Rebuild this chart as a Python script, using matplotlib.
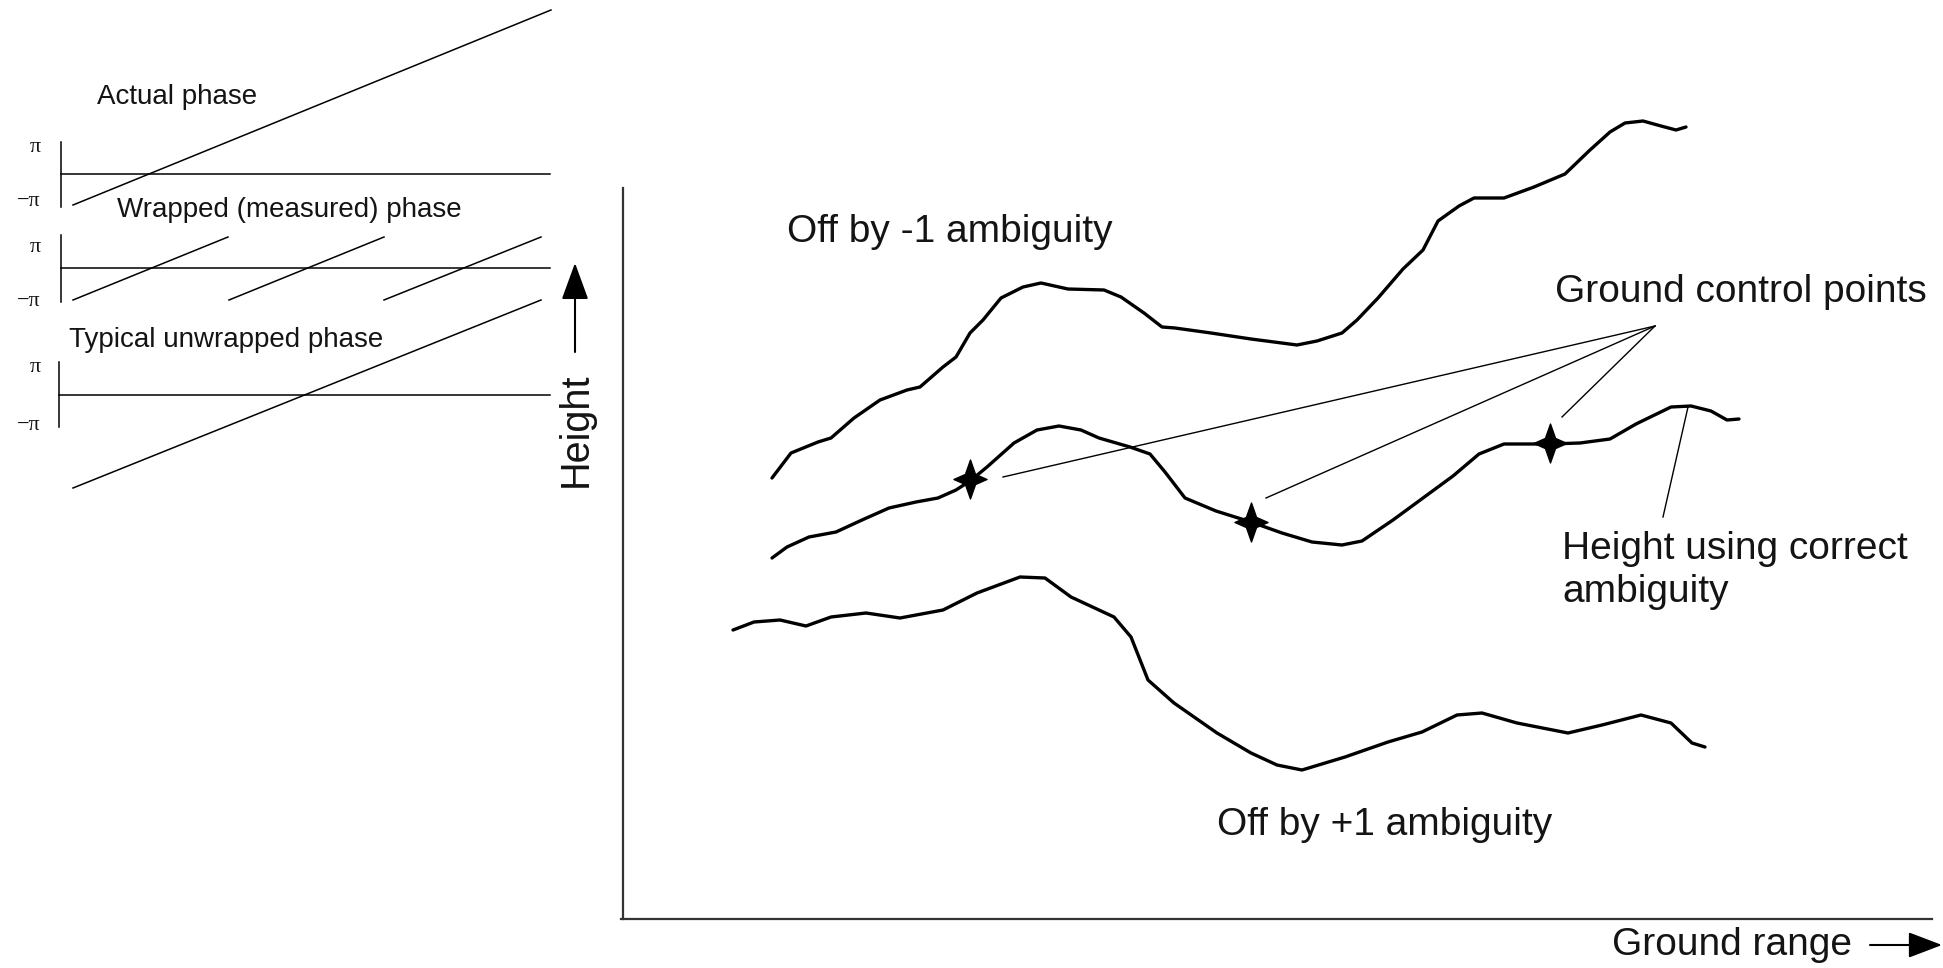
import matplotlib
matplotlib.use("Agg")
import matplotlib.pyplot as plt
from matplotlib.path import Path
import numpy as np

# ---------------- data (diagram coordinates, pixel units of the figure) ----------------
# Main panel curves
upper_x = [772, 791, 818, 831, 854, 880, 907, 920, 943, 956, 970, 983, 1001, 1023, 1041, 1068, 1104, 1121,
           1144, 1162, 1175, 1211, 1251, 1297, 1317, 1342, 1357, 1378, 1403, 1423, 1438, 1459, 1474, 1504,
           1534, 1565, 1590, 1610, 1625, 1643, 1661, 1676, 1686]
upper_y = [478, 453, 442, 438, 418, 400, 390, 387, 367, 357, 333, 320, 298, 287, 283, 289, 290, 297,
           313, 327, 328, 333, 339, 345, 341, 333, 320, 298, 269, 250, 221, 206, 198, 198,
           187, 174, 150, 132, 123, 121, 126, 130, 127]

mid_x = [772, 787, 809, 836, 862, 889, 916, 938, 956, 970, 987, 1014, 1037, 1059, 1081, 1099, 1130, 1150,
         1165, 1185, 1216, 1251, 1282, 1312, 1342, 1362, 1393, 1423, 1453, 1479, 1504, 1524, 1550, 1580,
         1610, 1636, 1671, 1691, 1711, 1727, 1739]
mid_y = [558, 547, 537, 532, 520, 508, 502, 498, 490, 481, 467, 443, 430, 426, 430, 438, 447, 454,
         472, 498, 511, 522, 533, 542, 545, 541, 520, 498, 476, 454, 444, 444, 444, 443,
         439, 424, 407, 406, 411, 420, 419]

low_x = [733, 754, 780, 806, 831, 866, 900, 943, 977, 1020, 1045, 1071, 1114, 1131, 1148, 1174, 1217, 1251,
         1277, 1302, 1345, 1388, 1422, 1457, 1482, 1517, 1568, 1602, 1641, 1671, 1692, 1705]
low_y = [630, 622, 620, 626, 617, 613, 618, 610, 593, 577, 578, 597, 617, 637, 680, 703, 733, 753,
         765, 770, 757, 742, 732, 715, 713, 723, 733, 725, 715, 723, 743, 747]

# Ground control points
gcp_x = [970, 1251, 1550]
gcp_y = [479, 522, 443]
gcp_label_origin = (1655, 326)
gcp_line_ends = [(1003, 477), (1266, 498), (1562, 417)]
height_ptr = [(1688, 407), (1663, 517)]

# Left phase panels: (axis x, axis top, axis bottom, zero-line y, pi-label y, -pi-label y)
phase_panels = [(61, 142, 207, 174, 147, 202),
                (61, 235, 302, 268, 247, 302),
                (59, 362, 427, 395, 367, 425)]
phase_line_right = 550
actual_phase = [(73, 205), (551, 10)]
wrapped_segments = [[(73, 300), (228, 237)], [(229, 300), (384, 237)], [(384, 300), (541, 237)]]
unwrapped_phase = [(73, 488), (541, 300)]

panel_titles = ["Actual phase", "Wrapped (measured) phase", "Typical unwrapped phase"]
panel_title_pos = [(97, 97), (117, 210), (69, 340)]

# ---------------- figure ----------------
W, H = 1943, 968
fig = plt.figure(figsize=(W / 100, H / 100), dpi=100)
ax = fig.add_axes([0, 0, 1, 1])
ax.set_xlim(0, W)
ax.set_ylim(H, 0)
ax.axis('off')

FONT = ['Liberation Sans', 'DejaVu Sans']
SERIF = ['Liberation Serif', 'DejaVu Serif']
TXT = '#141414'

# left panels
for (xa, ytop, ybot, yz, ypi, ympi) in phase_panels:
    ax.plot([xa, xa], [ytop, ybot], color='black', lw=1.1)
    ax.plot([xa, phase_line_right], [yz, yz], color='black', lw=1.1)
    ax.text(41, ypi, 'π', ha='right', va='center', fontsize=16, family=SERIF, color=TXT)
    ax.text(41, ympi, '−π', ha='right', va='center', fontsize=16, family=SERIF, color=TXT)

ax.plot(*zip(*actual_phase), color='black', lw=1.1)
for seg in wrapped_segments:
    ax.plot(*zip(*seg), color='black', lw=1.1)
ax.plot(*zip(*unwrapped_phase), color='black', lw=1.1)

for t, (x, y) in zip(panel_titles, panel_title_pos):
    ax.text(x, y, t, ha='left', va='center', fontsize=20, family=FONT, color=TXT)

# Height arrow and label
ax.annotate('', xy=(575, 263), xytext=(575, 352),
            arrowprops=dict(arrowstyle='-|>,head_length=1.15,head_width=0.42', mutation_scale=20,
                            lw=1.5, color='black', shrinkA=0, shrinkB=0))
ax.text(576, 430, 'Height', rotation=90, ha='center', va='center', fontsize=28.5, family=FONT, color=TXT)

# main axes
ax.plot([623, 623], [188, 919], color='#333333', lw=1.6)
ax.plot([621, 1932], [919, 919], color='#333333', lw=1.6)

# Ground range label and arrow
ax.text(1612, 945, 'Ground range', ha='left', va='center', fontsize=28, family=FONT, color=TXT)
ax.annotate('', xy=(1942, 945), xytext=(1870, 945),
            arrowprops=dict(arrowstyle='-|>,head_length=1.05,head_width=0.4', mutation_scale=20,
                            lw=1.5, color='black', shrinkA=0, shrinkB=0))

# curves
for xs, ys in [(upper_x, upper_y), (mid_x, mid_y), (low_x, low_y)]:
    ax.plot(xs, ys, color='black', lw=2.4, solid_joinstyle='round', solid_capstyle='round')

# pointer lines
for end in gcp_line_ends:
    ax.plot([gcp_label_origin[0], end[0]], [gcp_label_origin[1], end[1]], color='black', lw=1.0)
ax.plot(*zip(*height_ptr), color='black', lw=1.0)

# star markers (4-pointed, fat)
r_in = 0.26
verts = [(0, 1), (r_in, r_in), (0.85, 0), (r_in, -r_in), (0, -1), (-r_in, -r_in), (-0.85, 0), (-r_in, r_in), (0, 1)]
star = Path(verts, [Path.MOVETO] + [Path.LINETO] * 7 + [Path.CLOSEPOLY])
ax.plot(gcp_x, gcp_y, linestyle='none', marker=star, markersize=28, color='black')

# labels
ax.text(787, 232, 'Off by -1 ambiguity', ha='left', va='center', fontsize=28, family=FONT, color=TXT)
ax.text(1555, 292, 'Ground control points', ha='left', va='center', fontsize=28, family=FONT, color=TXT)
ax.text(1562, 549, 'Height using correct', ha='left', va='center', fontsize=28, family=FONT, color=TXT)
ax.text(1562, 592, 'ambiguity', ha='left', va='center', fontsize=28, family=FONT, color=TXT)
ax.text(1217, 825, 'Off by +1 ambiguity', ha='left', va='center', fontsize=28, family=FONT, color=TXT)

fig.savefig('out.png', dpi=100, facecolor='white')
